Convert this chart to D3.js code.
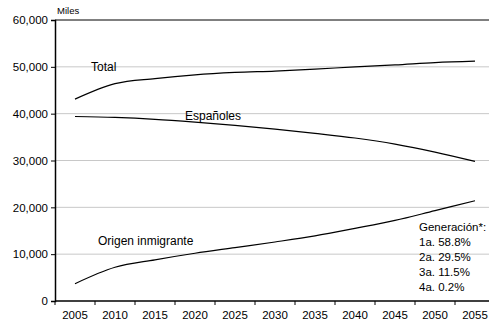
<!DOCTYPE html>
<html><head><meta charset="utf-8">
<script src="https://cdn.jsdelivr.net/npm/d3@7"></script>
<style>body{margin:0;background:#fff}</style>
</head><body><svg id="c" width="489" height="324"></svg>
<script>
const years = [2005,2010,2015,2020,2025,2030,2035,2040,2045,2050,2055];
const total = [43100,46400,47500,48300,48800,49100,49500,50000,50400,50900,51200];
const espanoles = [39400,39200,38800,38200,37500,36700,35800,34800,33500,31800,29800];
const origen = [3700,7200,8800,10200,11400,12600,13900,15500,17200,19300,21400];
const yTicks = [0,10000,20000,30000,40000,50000,60000];
const generacion = ["Generación*:","1a. 58.8%","2a. 29.5%","3a. 11.5%","4a. 0.2%"];
const seriesLabels = [
  {text:"Total", data: total, year:2010, dx:-24, dy:-13},
  {text:"Españoles", data: espanoles, year:2025, dx:-50, dy:-5},
  {text:"Origen inmigrante", data: origen, year:2015, dx:-57, dy:-15}
];
const FONT = "'Liberation Sans', Arial, sans-serif";

const svg = d3.select("#c");
const x = d3.scaleBand().domain(years).range([55,495]);
const y = d3.scaleLinear().domain([0,60000]).range([301,20]);

svg.append("g").selectAll("line").data(yTicks.slice(1)).join("line")
  .attr("x1",55).attr("x2",489).attr("y1",d=>y(d)).attr("y2",d=>y(d))
  .attr("stroke",d=>d===60000?"#000":"#c8c8c8").attr("stroke-width",1);

const ya = svg.append("g").attr("transform","translate(55,0)")
  .call(d3.axisLeft(y).tickValues(yTicks).tickSize(4).tickPadding(3).tickFormat(d3.format(",")));
ya.attr("font-family",FONT);
ya.select(".domain").attr("stroke","#000").attr("stroke-width",1.5);
ya.selectAll("text").attr("font-size",11.5).attr("fill","#000").style("font-family",FONT);

const xa = svg.append("g").attr("transform","translate(0,301)");
xa.append("line").attr("x1",55).attr("x2",489).attr("stroke","#000").attr("stroke-width",1.5);
xa.selectAll("line.t").data(years).join("line").attr("class","t")
  .attr("x1",d=>x(d)+x.bandwidth()).attr("x2",d=>x(d)+x.bandwidth()).attr("y1",0).attr("y2",4).attr("stroke","#000");
xa.append("line").attr("x1",55).attr("x2",55).attr("y1",0).attr("y2",4).attr("stroke","#000");
xa.selectAll("text").data(years).join("text")
  .attr("x",d=>x(d)+x.bandwidth()/2).attr("y",18).attr("text-anchor","middle")
  .attr("font-size",11.5).style("font-family",FONT).text(d=>d);

const line = d3.line().x((d,i)=>x(years[i])+x.bandwidth()/2).y(d=>y(d)).curve(d3.curveMonotoneX);
[total,espanoles,origen].forEach(s=>{
  svg.append("path").attr("d",line(s)).attr("fill","none").attr("stroke","#000").attr("stroke-width",1.2);
});

seriesLabels.forEach(l=>{
  const i = years.indexOf(l.year);
  svg.append("text").attr("x",x(l.year)+x.bandwidth()/2+l.dx).attr("y",y(l.data[i])+l.dy)
    .attr("font-size",12).style("font-family",FONT).text(l.text);
});

svg.append("text").attr("x",57).attr("y",14).attr("font-size",9.5).style("font-family",FONT).text("Miles");

svg.append("g").selectAll("text").data(generacion).join("text")
  .attr("x",419).attr("y",(d,i)=>231+i*15).attr("font-size",11.5).style("font-family",FONT).text(d=>d);
</script></body></html>
